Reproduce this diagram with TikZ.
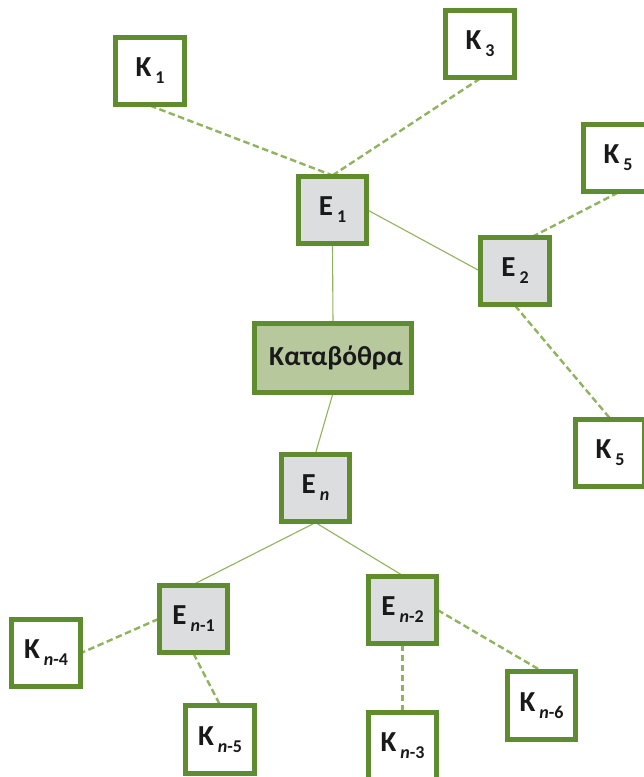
\documentclass[tikz,border=0pt]{standalone}
\usepackage{fontspec}
\setmainfont{Carlito}
\definecolor{boxline}{HTML}{5E8C2E}
\definecolor{linkline}{HTML}{8FB35E}
\definecolor{greyfill}{HTML}{DCDDDF}
\definecolor{sinkfill}{HTML}{B6C89C}
% label with a lowered, smaller index
\newcommand{\idx}[2]{#1\hspace{4pt}\raisebox{-7pt}{\fontsize{18}{18}\selectfont #2}}
\tikzset{
  x=1pt, y=-1pt,
  kbox/.style={draw=boxline, line width=3.2pt, fill=white, inner sep=0pt,
    minimum width=67pt, minimum height=66pt,
    font=\fontsize{29}{29}\selectfont\bfseries, text=black!90},
  ebox/.style={kbox, fill=greyfill},
  sinkbox/.style={kbox, fill=sinkfill, minimum width=155pt, minimum height=67pt,
    font=\fontsize{27.5}{27.5}\selectfont\bfseries},
  solidlink/.style={draw=linkline, line width=1.1pt},
  dashlink/.style={draw=linkline, line width=2.4pt, dash pattern=on 6.5pt off 3.5pt}
}
\begin{document}
\begin{tikzpicture}
\useasboundingbox (0,0) rectangle (644,777);
\begin{scope}
\clip (0,0) rectangle (644,777);
% boxes
\node[kbox] (K1) at (150,71) {\idx{K}{1}};
\node[kbox] (K3) at (480,44) {\idx{K}{3}};
\node[ebox] (E1) at (332.5,210) {\idx{E}{1}};
\node[kbox] (K5a) at (618,158) {\idx{K}{5}};
\node[ebox] (E2) at (515,271) {\idx{E}{2}};
\node[sinkbox] (S) at (333,358) {\hspace{6pt}Καταβόθρα};
\node[kbox] (K5b) at (610,453) {\idx{K}{5}};
\node[ebox] (En) at (315.5,488) {\idx{E}{\textit{n}}};
\node[ebox] (Ea) at (193.5,619) {\idx{E}{\textit{n}-1}};
\node[ebox] (Eb) at (402.5,610) {\idx{E}{\textit{n}-2}};
\node[kbox] (Kn4) at (46,653) {\idx{K}{\textit{n}-4}};
\node[kbox] (Kn5) at (220,739.5) {\idx{K}{\textit{n}-5}};
\node[kbox] (Kn3) at (402.5,746) {\idx{K}{\textit{n}-3}};
\node[kbox] (Kn6) at (541.5,705.5) {\idx{K}{\textit{n}-6}};

% links
\path[solidlink] (E1.south) -- (S.north);
\path[solidlink] (E1.east) -- (E2.west);
\path[solidlink] (S.south) -- (En.north);
\path[solidlink] (En.south) -- (Ea.north);
\path[solidlink] (En.south) -- (Eb.north);
\path[dashlink] (K1.south) -- (E1.north);
\path[dashlink] (K3.south) -- (E1.north);
\path[dashlink] (K5a.south) -- ([xshift=18pt]E2.north);
\path[dashlink] (E2.south) -- (K5b.north);
\path[dashlink] (Ea.west) -- (Kn4.east);
\path[dashlink] (Ea.south) -- (Kn5.north);
\path[dashlink] (Eb.south) -- (Kn3.north);
\path[dashlink] (Eb.east) -- (Kn6.north);

% box outlines over the link ends
\foreach \n in {K1,K3,E1,K5a,E2,S,K5b,En,Ea,Eb,Kn4,Kn5,Kn3,Kn6}
  \draw[boxline, line width=3.2pt] (\n.north west) rectangle (\n.south east);
\end{scope}
\end{tikzpicture}
\end{document}
